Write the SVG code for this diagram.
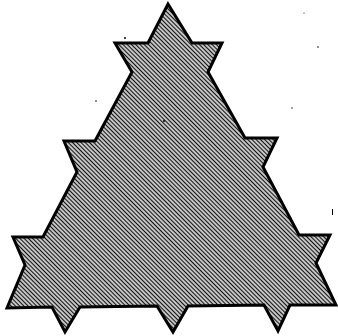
<svg xmlns="http://www.w3.org/2000/svg" width="338" height="336" viewBox="0 0 338 336">
  <defs>
    <pattern id="hatch" patternUnits="userSpaceOnUse" width="3" height="3" patternTransform="rotate(45)">
      <rect width="3" height="3" fill="#ffffff"/>
      <line x1="0" y1="1.5" x2="3" y2="1.5" stroke="#111" stroke-width="1.5"/>
    </pattern>
  </defs>
  <style>
    .shape { fill: url(#hatch); stroke: #000; stroke-width: 3; stroke-linejoin: miter; }
    .speck { fill: #000; }
  </style>
  <rect width="338" height="336" fill="#ffffff"/>
  <g id="figure">
    <path class="shape" d="M168,4 L192,43 L222,43 L208,72 L245,138 L277,138 L263,167 L299,235 L330,235 L316,263 L336,305 L290,305 L278,331 L264,305 L188,306 L173,332 L157,306 L80,307 L65,332 L52,307 L7,308 L25,265 L13,237 L43,237 L77,172 L64,141 L95,141 L132,72 L115,43 L148,43 Z"/>
  </g>
  <g id="specks">
    <circle class="speck" cx="125" cy="38" r="1"/>
    <circle class="speck" cx="96" cy="101" r="0.8"/>
    <circle class="speck" cx="318" cy="47" r="0.8"/>
    <circle class="speck" cx="292" cy="108" r="0.7"/>
    <circle class="speck" cx="304" cy="13" r="0.6"/>
    <rect class="speck" x="332" y="209" width="1" height="6"/>
    <circle class="speck" cx="164" cy="121" r="1"/>
  </g>
</svg>
